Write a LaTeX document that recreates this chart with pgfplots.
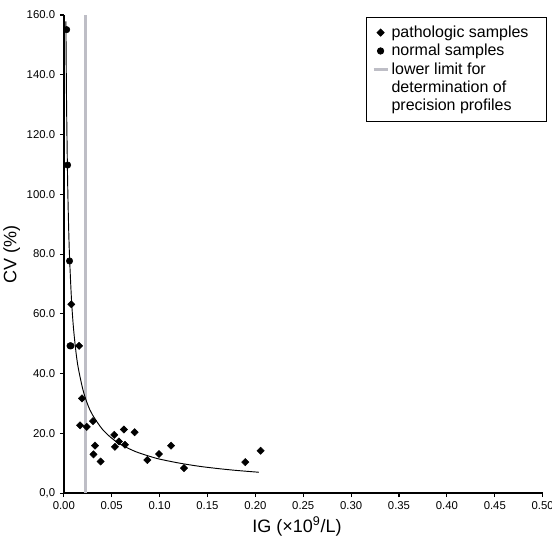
\documentclass[border=0pt]{standalone}
\usepackage{pgfplots}
\pgfplotsset{compat=1.18}
\usepackage{fontspec}
\setmainfont{Liberation Sans}
\definecolor{limitgray}{RGB}{190,190,198}
\pgfplotsset{
  markleg/.style={legend image code/.code={\draw[##1] plot coordinates {(0.185cm,0pt)};}},
  lineleg/.style={legend image code/.code={\draw[##1] (0cm,0pt) -- (0.37cm,0pt);}},
}
\begin{document}
\begin{tikzpicture}
\begin{axis}[
  scale only axis, width=359.25pt, height=358.7pt,
  xmin=0, xmax=0.5, ymin=0, ymax=160,
  axis lines=left, axis line style={-, line width=1.2pt},
  tick align=outside, tick style={black, line width=0.8pt}, major tick length=3pt,
  xtick={0,0.05,0.1,0.15,0.2,0.25,0.3,0.35,0.4,0.45,0.5},
  xticklabels={0.00,0.05,0.10,0.15,0.20,0.25,0.30,0.35,0.40,0.45,0.50},
  ytick={0,20,40,60,80,100,120,140,160},
  yticklabels={{0,0},20.0,40.0,60.0,80.0,100.0,120.0,140.0,160.0},
  tick label style={font=\fontsize{8.5}{10}\selectfont},
  xlabel={IG (\texttimes10\textsuperscript{9}/L)},
  ylabel={CV (\%)},
  label style={font=\fontsize{13.5}{16}\selectfont},
  xlabel style={at={(axis description cs:0.487,0)}, anchor=base, yshift=-29.3pt},
  ylabel style={at={(axis description cs:-0.1086,0.5)}, anchor=center},
  legend style={at={(1.0094,0.9964)}, anchor=north east, draw=black, line width=0.6pt,
    font=\fontsize{12}{13.5}\selectfont, legend cell align=left,
    inner xsep=4.5pt, inner ysep=4.5pt, row sep=-0.4pt},
  clip=false,
]
\coordinate (bl) at (rel axis cs:0,0);
\coordinate (tr) at (rel axis cs:1,1);
\addplot[only marks, mark=square*, mark size=1.9pt, mark options={rotate=45, fill=black, draw=black}, markleg]
 coordinates {
 (0.0078,63.2) (0.016,49.3) (0.019,31.7) (0.017,22.7) (0.024,22.2) (0.0305,24.1)
 (0.0326,15.9) (0.031,13.0) (0.0385,10.6) (0.0527,19.5) (0.0534,15.5) (0.0576,17.3)
 (0.0628,21.3) (0.0639,16.2) (0.074,20.4) (0.0872,11.1) (0.0994,13.1) (0.112,15.9)
 (0.1255,8.4) (0.1895,10.4) (0.2055,14.2)
 };
\addlegendentry{pathologic samples\makebox[7.2pt]{}}
\addplot[only marks, mark=*, mark size=2.4pt, mark options={fill=black, draw=black}, markleg]
 coordinates {
 (0.003,155.1) (0.004,109.8) (0.006,77.7) (0.0065,49.3) (0.0075,49.3)
 };
\addlegendentry{normal samples}
\addplot[limitgray, line width=2pt, lineleg]
 coordinates {(0.023,0) (0.023,160)};
\addlegendentry{lower limit for}
\addlegendimage{empty legend}
\addlegendentry{determination of}
\addlegendimage{empty legend}
\addlegendentry{precision profiles}
\addplot[black, line width=0.7pt, smooth, forget plot] coordinates {
 (0.0022,157.9) (0.0025,144.6) (0.003,127.5) (0.004,104.6) (0.005,89.7) (0.006,79.1)
 (0.008,65.0) (0.010,55.7) (0.0125,47.8) (0.015,42.1) (0.02,34.6) (0.025,29.6)
 (0.03,26.2) (0.04,21.5) (0.05,18.4) (0.06,16.2) (0.075,13.9) (0.09,12.3)
 (0.1,11.4) (0.12,10.1) (0.14,9.06) (0.16,8.27) (0.18,7.62) (0.2037,7.0)
 };
\end{axis}
\pgfresetboundingbox
\path ([xshift=-47.85pt, yshift=-34.3pt]bl) rectangle ([xshift=6.98pt, yshift=11.25pt]tr);
\end{tikzpicture}
\end{document}
